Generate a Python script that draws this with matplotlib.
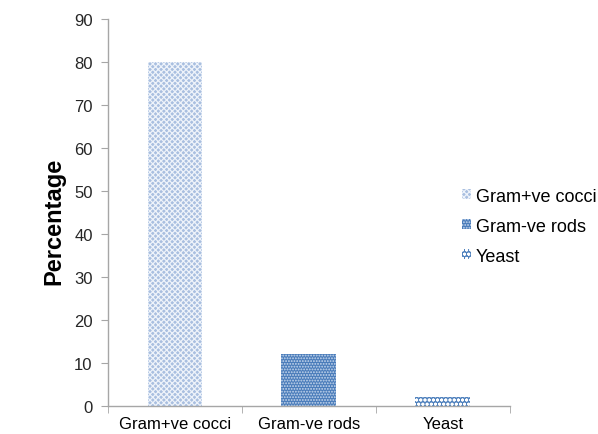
import matplotlib
matplotlib.use("Agg")
import matplotlib.pyplot as plt

categories = ["Gram+ve cocci", "Gram-ve rods", "Yeast"]
percentages = [80, 12, 2]
y_ticks = [0, 10, 20, 30, 40, 50, 60, 70, 80, 90]

plt.rcParams["font.family"] = ["Liberation Sans", "DejaVu Sans"]
plt.rcParams["hatch.linewidth"] = 0.9

fig = plt.figure(figsize=(5.98, 4.35), dpi=100)
ax = fig.add_axes([0.1806, 0.0644, 0.672, 0.8896])

styles = [
    dict(facecolor="#a9bfe0", hatch="xxxxxx", edgecolor="#eef3fa"),
    dict(facecolor="#4a7cba", hatch="......", edgecolor="#c9d9ee"),
    dict(facecolor="#4f81bd", hatch="oooo", edgecolor="#ffffff"),
]

x = list(range(len(categories)))
for xi, val, lab, st in zip(x, percentages, categories, styles):
    ax.bar(xi, val, width=0.41, linewidth=0, label=lab, **st)

ax.set_xlim(-0.5, len(categories) - 0.5)
ax.set_ylim(0, 90)
ax.set_yticks(y_ticks)
ax.set_xticks(x)
ax.set_xticklabels(categories)
ax.set_xticks([-0.5, 0.5, 1.5, 2.5], minor=True)

for side in ("top", "right"):
    ax.spines[side].set_visible(False)
for side in ("left", "bottom"):
    ax.spines[side].set_color("#a6a6a6")
    ax.spines[side].set_linewidth(1.0)

ax.tick_params(axis="y", direction="out", length=5, color="#a6a6a6",
               labelsize=12, labelcolor="#262626", pad=6)
ax.tick_params(axis="x", which="major", length=0, labelsize=12,
               labelcolor="#000000", pad=7)
ax.tick_params(axis="x", which="minor", direction="out", length=5,
               color="#a6a6a6")

ax.set_ylabel("Percentage", fontsize=17, fontweight="bold", labelpad=2)
ax.yaxis.set_label_coords(-0.107, 0.48)

ax.legend(loc="center left", bbox_to_anchor=(0.862, 0.465), frameon=False,
          fontsize=13, handlelength=0.5, handleheight=0.5, handletextpad=0.3,
          labelspacing=0.72, borderaxespad=0)

fig.savefig("out.png", dpi=100)
